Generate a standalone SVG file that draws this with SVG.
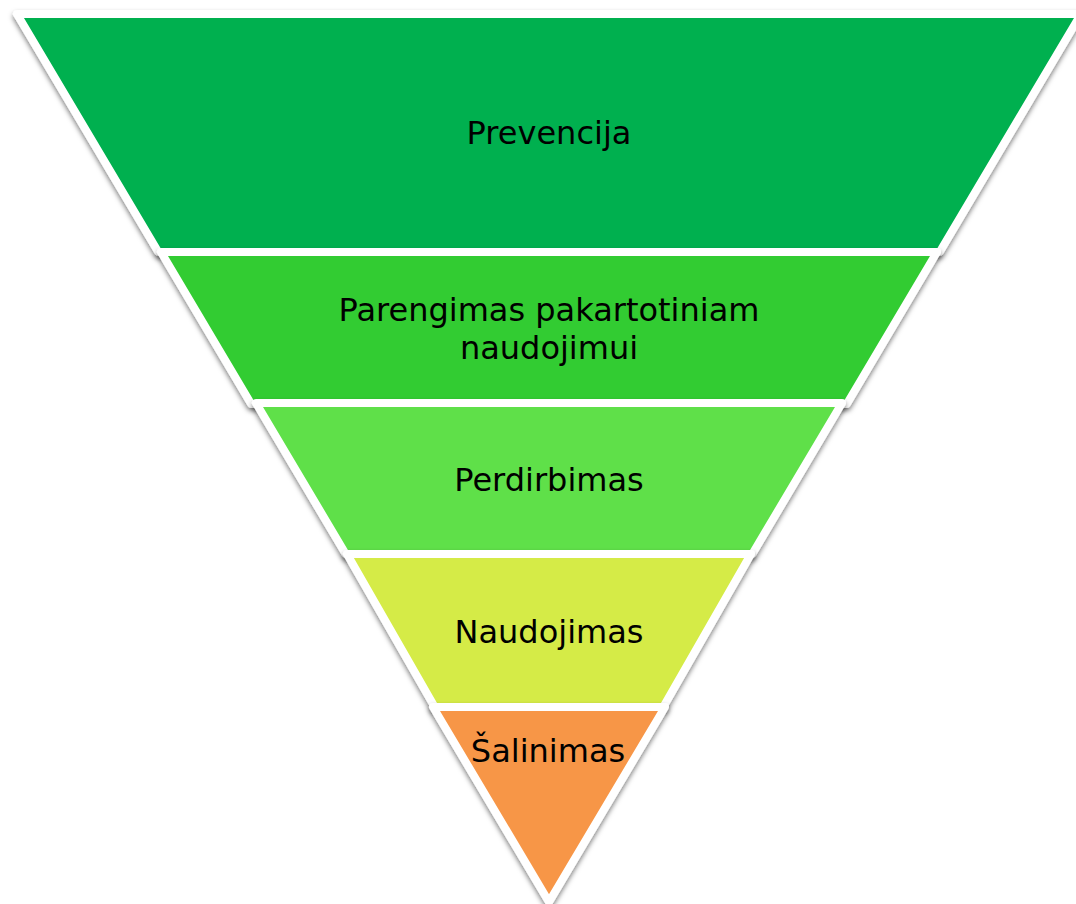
<svg xmlns="http://www.w3.org/2000/svg" width="1076" height="904" viewBox="0 0 1076 904">
  <defs>
    <filter id="sh" x="-10%" y="-10%" width="120%" height="130%">
      <feDropShadow dx="0" dy="3" stdDeviation="2.5" flood-color="#000" flood-opacity="0.5"/>
    </filter>
    <style>
      .lvl { stroke: #fff; stroke-width: 8; stroke-linejoin: round; filter: url(#sh); }
      .lbl { font-family: "DejaVu Sans", Verdana, sans-serif; font-size: 32px; fill: #000; text-anchor: middle; }
    </style>
  </defs>
  <rect width="1076" height="904" fill="#fff"/>
  <g id="level1">
    <polygon class="lvl" fill="#00B050" points="17,14 1081,14 939.7,252 158.3,252"/>
    <text class="lbl" x="549" y="144">Prevencija</text>
  </g>
  <g id="level2">
    <polygon class="lvl" fill="#33CC33" points="161,252 937,252 846.8,404 251.2,404"/>
    <text class="lbl" x="549" y="321">Parengimas pakartotiniam</text>
    <text class="lbl" x="549" y="359">naudojimui</text>
  </g>
  <g id="level3">
    <polygon class="lvl" fill="#5FE04A" points="256,403 842,403 752.3,554 345.7,554"/>
    <text class="lbl" x="549" y="491">Perdirbimas</text>
  </g>
  <g id="level4">
    <polygon class="lvl" fill="#D5EB47" points="347,554 751,554 663.3,707 434.7,707"/>
    <text class="lbl" x="549" y="643">Naudojimas</text>
  </g>
  <g id="level5">
    <polygon class="lvl" fill="#F79646" points="433,707 665,707 549,902"/>
    <text class="lbl" x="548" y="762">Šalinimas</text>
  </g>
  <g id="connectors"></g>
</svg>
